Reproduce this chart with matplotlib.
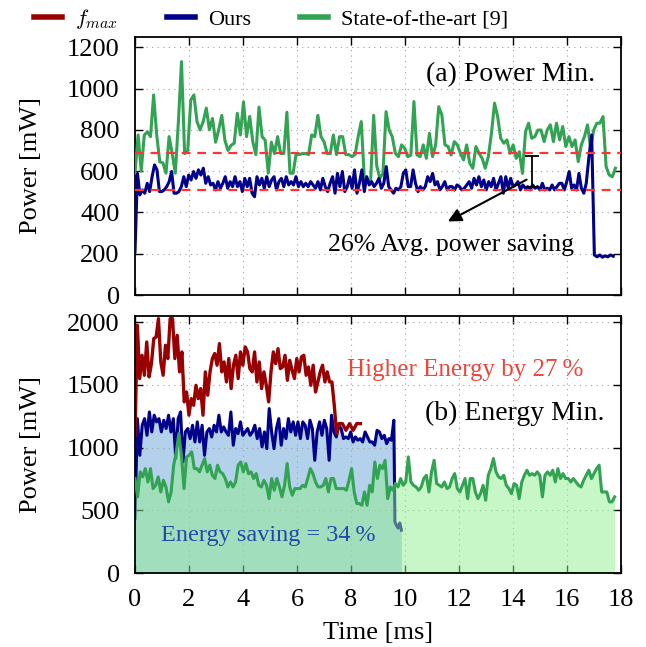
import numpy as np
import matplotlib
matplotlib.use('Agg')
import matplotlib.pyplot as plt

plt.rcParams['font.family'] = ['Liberation Serif', 'DejaVu Serif']
plt.rcParams['mathtext.fontset'] = 'cm'
plt.rcParams['font.size'] = 19

# ---- (a) power minimisation ----
top_sota = [590, 775, 600, 775, 790, 767, 969, 775, 645, 640, 590, 767, 685, 590, 840, 1130, 685, 700, 945, 969,
            840, 800, 840, 905, 800, 855, 740, 800, 870, 750, 700, 725, 735, 880, 775, 935, 767, 865, 742, 680,
            910, 767, 750, 590, 740, 685, 767, 685, 685, 885, 590, 590, 685, 680, 685, 685, 680, 775, 767, 870,
            767, 742, 685, 685, 775, 680, 767, 767, 680, 680, 670, 680, 767, 840, 560, 550, 545, 870, 625,
            565, 589, 888, 799, 767, 686, 670, 727, 711, 670, 678, 937, 678, 670, 727, 662, 783, 670, 727, 912,
            872, 727, 719, 678, 743, 727, 686, 654, 727, 638, 614, 719, 686, 662, 614, 670, 783, 929, 864, 759,
            735, 751, 686, 727, 662, 694, 589, 791, 832, 759, 767, 799, 799, 743, 799, 824, 743, 832, 751, 816,
            719, 767, 719, 751, 646, 727, 767, 824, 711, 799, 832, 832, 864, 622, 581, 573, 614]

top_ours = [210, 589, 485, 509, 493, 541, 501, 573, 630, 606, 501, 501, 509, 525, 549, 598, 493, 493, 501, 525,
            573, 525, 581, 557, 598, 565, 606, 581, 614, 541, 573, 533, 541, 509, 549, 517, 541, 573, 517, 549,
            525, 573, 525, 549, 501, 565, 525, 565, 493, 476, 573, 533, 565, 517, 573, 525, 557, 573, 509, 549,
            565, 525, 573, 533, 549, 533, 573, 525, 549, 525, 541, 525, 549, 533, 517, 549, 509, 565, 525, 501,
            541, 573, 493, 589, 525, 598, 501, 525, 573, 517, 606, 493, 541, 606, 501, 573, 533, 549, 525, 541,
            565, 517,
            541, 622, 525, 509, 493, 517, 509, 525, 589, 606, 525, 525, 606, 541, 501, 525, 509, 525, 573, 549,
            589, 533, 549, 509, 525, 549, 509, 525, 525, 509, 533, 525, 509, 517, 533, 549, 517, 565, 533, 573,
            525, 557, 509, 549, 525, 565, 509, 541, 573, 493, 573, 517, 565, 525, 533, 549, 509, 533, 517, 525,
            509, 533, 517, 525, 509, 541, 509, 517, 509, 533, 509, 525, 541, 541, 509, 549, 598, 517, 533, 509,
            589, 517, 493, 541]
top_ours_tail = [670, 775, 194, 185, 194, 183, 190, 185, 194, 188]

avg_sota = 690
avg_ours = 509

# ---- (b) energy minimisation ----
bot_fmax = [1098, 1974, 1550, 1735, 1576, 1841, 1563, 1669, 1868, 1881, 2027, 1682, 1576, 1815, 1709, 2027, 2027,
            1709, 1894, 1603, 1762, 1364, 1443, 1258, 1390, 1337, 1496, 1390, 1470, 1258, 1603, 1417, 1603, 1709,
            1749, 1656, 1828, 1603, 1682, 1523, 1709, 1470, 1656, 1735, 1550, 1762, 1656, 1802, 1762, 1629, 1603,
            1762, 1523, 1682, 1470, 1603, 1496, 1364, 1603, 1762, 1669, 1788, 1629, 1642, 1735, 1536, 1695, 1616,
            1550, 1709, 1603, 1722, 1735, 1576, 1642, 1496, 1656, 1443, 1523, 1603, 1656, 1523, 1603, 1523, 1523,
            1337, 1112]
bot_fmax_tail = [1191, 1191, 1138, 1191, 1138, 1191, 1191]

bot_ours = [435, 1231, 939, 1178, 1231, 1098, 1284, 1125, 1258, 1205, 1231, 1125, 1218, 1152, 1258, 1125, 1231, 913,
            1231, 1284, 886, 1125, 1152, 1072, 1178, 1045, 1205, 1045, 1178, 939, 1125, 1152, 1085, 1178, 1125, 1258,
            1125, 1165, 1125, 1098, 1284, 1019, 1152, 1112, 1205, 1098, 1125, 1152, 1098, 1125, 1178, 1072, 1152,
            1006, 1125, 992, 1311, 1125, 992, 1152, 1231, 1019, 1152, 1072, 1231, 1125, 1205, 1098, 1205, 1072, 1205,
            1178, 1072, 1218, 1152, 899, 1125, 1205, 1098, 1218, 1152, 899, 1258, 1125, 1085, 1178, 1152, 1072, 1085,
            1072, 1125, 1045, 1085, 1059, 1072, 1045, 1125, 1085, 1045, 1045, 1019, 1138,
            1125, 1072, 1098, 1032, 1072, 1059, 1218]
bot_ours_tail = [408, 380, 360, 400, 343]

bot_sota = [754, 608, 807, 767, 833, 727, 833, 674, 700, 767, 647, 740, 687, 568, 647, 860, 966, 1112, 939, 674,
            926, 939, 966, 833, 833, 807, 860, 913, 807, 860, 780, 754, 860, 807, 793, 754, 687, 727, 687, 727,
            860, 886, 807, 873, 793, 807, 754, 793, 700, 687, 740, 700, 594, 754, 661, 754, 687, 608, 700, 873,
            687, 621, 674, 674, 674, 700, 687, 754, 833, 793, 727, 687, 687, 700, 754, 647, 754, 754, 674, 674,
            674, 674, 661, 740, 833, 647, 555, 555, 541, 647, 541, 700,
            647, 886, 754, 860, 833, 899, 594, 687, 661, 714, 687, 754, 700, 727, 926, 727, 700, 687, 661, 687,
            754, 780, 647, 807, 899, 714, 700, 687, 727, 674, 687, 754, 793, 674, 647, 700, 754, 594, 754, 754,
            647, 594, 634, 700, 581, 780, 833, 913, 807, 767, 754, 780, 700, 674, 634, 714, 700, 594, 727, 780,
            820, 780, 793, 780, 807, 780, 608, 780, 807, 780, 820, 727, 833, 754, 793, 754, 754, 727, 754, 727,
            700, 687, 740, 780, 820, 754, 793, 833, 860, 647, 647, 647, 568, 568, 608]

# time axes
t_top_sota = np.linspace(0, 17.8, len(top_sota))
t_top_ours = np.concatenate([np.linspace(0, 16.72, len(top_ours)),
                             np.linspace(16.82, 17.72, len(top_ours_tail))])
y_top_ours = np.array(top_ours + top_ours_tail)

t_fmax = np.concatenate([np.linspace(0, 7.47, len(bot_fmax)),
                         np.linspace(7.55, 8.35, len(bot_fmax_tail))])
y_fmax = np.array(bot_fmax + bot_fmax_tail)
t_bot_ours = np.concatenate([np.linspace(0, 9.59, len(bot_ours)),
                             np.linspace(9.63, 9.87, len(bot_ours_tail))])
y_bot_ours = np.array(bot_ours + bot_ours_tail)
t_bot_sota = np.linspace(0, 17.77, len(bot_sota))

c_red = '#990000'
c_blue = '#00008b'
c_green = '#32a352'

fig = plt.figure(figsize=(6.46, 6.47), dpi=100)
ax1 = fig.add_axes([0.209, 0.544, 0.752, 0.399])
ax2 = fig.add_axes([0.209, 0.114, 0.752, 0.398])

for ax in (ax1, ax2):
    ax.set_xlim(0, 18)
    ax.set_xticks(np.arange(0, 19, 2))
    ax.grid(True, linestyle=(0, (1, 4)), color='#a0a0a0', lw=0.8)
    ax.tick_params(direction='in', top=True, right=True, length=6, width=1, pad=11, labelsize=19)
    for s in ax.spines.values():
        s.set_linewidth(1.3)
    ax.set_ylabel('Power [mW]', fontsize=19, labelpad=18)

# (a)
ax1.plot(t_top_sota, top_sota, color=c_green, lw=2.2, zorder=3)
ax1.plot(t_top_ours, y_top_ours, color=c_blue, lw=2.2, zorder=4)
ax1.axhline(avg_sota, color='#ff3333', ls=(0, (4, 3)), lw=1.6, zorder=5)
ax1.axhline(avg_ours, color='#ff3333', ls=(0, (4, 3)), lw=1.6, zorder=5)
ax1.errorbar([14.7], [600], yerr=[[75], [75]], color='k', lw=1.3, capsize=5, capthick=1.3, zorder=6)
ax1.annotate('', xy=(11.5, 350), xytext=(14.6, 565),
             arrowprops=dict(arrowstyle='-|>', color='k', lw=1.5, mutation_scale=20), zorder=6)
ax1.text(11.7, 242, '26% Avg. power saving', ha='center', va='center', fontsize=18.5)
ax1.text(17.05, 1066, '(a) Power Min.', ha='right', va='center', fontsize=20)
ax1.set_ylim(0, 1250)
ax1.set_yticks(np.arange(0, 1201, 200))
ax1.tick_params(labelbottom=False)

# (b)
ax2.fill_between(t_bot_ours, y_bot_ours, 0, color='#69a5d7', alpha=0.5, lw=0, zorder=1)
ax2.plot(t_bot_ours, y_bot_ours, color=c_blue, lw=2.2, zorder=2)
ax2.plot(t_fmax, y_fmax, color=c_red, lw=2.4, zorder=2)
ax2.fill_between(t_bot_sota, bot_sota, 0, color='#90ee90', alpha=0.5, lw=0, zorder=2.2)
ax2.plot(t_bot_sota, bot_sota, color=c_green, lw=2.2, zorder=3)
ax2.text(12.25, 1616, 'Higher Energy by 27\u2009%', color='#f0443a', ha='center', va='center', fontsize=18)
ax2.text(17.4, 1274, '(b) Energy Min.', ha='right', va='center', fontsize=20)
ax2.text(4.93, 302, 'Energy saving = 34\u2009%', color='#2448a8', ha='center', va='center', fontsize=17.5, zorder=5)
ax2.set_ylim(0, 2050)
ax2.set_yticks(np.arange(0, 2001, 500))
ax2.set_xlabel('Time [ms]', fontsize=19, labelpad=8)

h_red, = ax2.plot([], [], color=c_red, lw=4)
h_blue, = ax2.plot([], [], color=c_blue, lw=4)
h_green, = ax2.plot([], [], color=c_green, lw=4)
fig.legend([h_red, h_blue, h_green], [r'$f_{max}$', 'Ours', 'State-of-the-art [9]'],
           loc='upper center', bbox_to_anchor=(0.42, 1.02), ncol=3, frameon=False,
           handlelength=1.25, columnspacing=2.2, handletextpad=0.6, fontsize=16)

fig.savefig('out.png', dpi=100)
